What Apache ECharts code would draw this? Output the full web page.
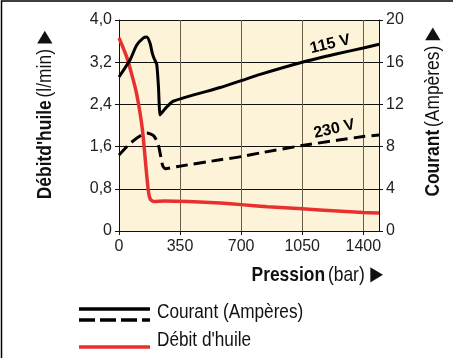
<!DOCTYPE html>
<html>
<head>
<meta charset="utf-8">
<script src="https://cdn.jsdelivr.net/npm/echarts@6/dist/echarts.min.js"></script>
<style>
  html, body { margin: 0; padding: 0; background: #fff; }
  #chart { width: 453px; height: 358px; }
</style>
</head>
<body>
<div id="chart"></div>
<script>
// valeurs
const pressionDebit = [0, 44, 82, 101, 120, 135, 148, 159, 170, 180, 200, 260, 400, 580, 700, 850, 1050, 1250, 1400, 1490];
const debitHuile = [3.66, 3.3, 2.86, 2.6, 2.25, 1.9, 1.45, 1.05, 0.72, 0.6, 0.56, 0.57, 0.56, 0.53, 0.5, 0.46, 0.42, 0.38, 0.35, 0.34];

const pression115 = [0, 63, 101, 140, 159, 178, 190, 200, 216, 226, 235, 245, 265, 310, 580, 700, 809, 1050, 1250, 1400, 1490];
const courant115 = [14.6, 16.2, 17.6, 18.3, 18.4, 17.8, 16.9, 16.4, 15.8, 13.7, 11.0, 11.2, 11.6, 12.3, 13.6, 14.25, 14.85, 16.0, 16.8, 17.35, 17.7];

const pression230 = [0, 63, 120, 159, 197, 215, 226, 240, 250, 265, 330, 580, 700, 809, 1050, 1250, 1400, 1490];
const courant230 = [7.2, 8.3, 9.0, 9.3, 9.05, 8.6, 8.15, 7.0, 6.2, 5.9, 6.1, 6.75, 7.05, 7.4, 8.1, 8.6, 8.95, 9.1];

const etiquettes = [
  { texte: '115 V', coord: [1211, 17.7] },
  { texte: '230 V', coord: [1234, 9.67] }
];

const SANS = "'Liberation Sans', Arial, sans-serif";
const ROUGE = '#e8312f';
const SERRE = 0.83; // police condensée simulée

function pairs(xs, ys) {
  return xs.map((x, i) => [x, ys[i]]);
}

const titreRich = {
  b: { fontFamily: SANS, fontWeight: 'bold', fontSize: 21, fill: '#111' },
  n: { fontFamily: SANS, fontSize: 21, fill: '#111' },
  t: { fontFamily: 'DejaVu Sans', fontSize: 20, fill: '#111' }
};

const chart = echarts.init(document.getElementById('chart'));

const option = {
  animation: false,
  grid: { left: 119, right: 74, top: 20, bottom: 127, show: true, backgroundColor: '#fdf3d9', borderWidth: 0 },
  xAxis: {
    type: 'value', min: 0, max: 1490, interval: 350,
    axisLine: { lineStyle: { color: '#111', width: 1 } },
    axisTick: { show: true, length: 4, lineStyle: { color: '#111' } },
    axisLabel: { showMaxLabel: false, color: '#222', fontSize: 16, fontFamily: SANS, margin: 8, formatter: v => String(v) },
    splitLine: { show: true, lineStyle: { color: '#6b5e4a', width: 1 } }
  },
  yAxis: [
    {
      type: 'value', min: 0, max: 4, interval: 0.8, position: 'left',
      axisLine: { show: true, lineStyle: { color: '#111' } },
      axisTick: { show: true, length: 4, lineStyle: { color: '#111' } },
      axisLabel: {
        color: '#222', fontSize: 16, fontFamily: SANS, margin: 7,
        formatter: v => v === 0 ? '0' : v.toFixed(1).replace('.', ',')
      },
      splitLine: { show: true, lineStyle: { color: '#111', width: 1 } }
    },
    {
      type: 'value', min: 0, max: 20, interval: 4, position: 'right',
      axisLine: { show: true, lineStyle: { color: '#111' } },
      axisTick: { show: true, length: 4, lineStyle: { color: '#111' } },
      axisLabel: { color: '#222', fontSize: 16, fontFamily: SANS, margin: 7 },
      splitLine: { show: false }
    }
  ],
  series: [
    {
      name: 'Débit d\'huile', type: 'line', yAxisIndex: 0, smooth: 0.2,
      showSymbol: false, data: pairs(pressionDebit, debitHuile),
      lineStyle: { color: ROUGE, width: 3.5 }
    },
    {
      name: 'Courant 230 V', type: 'line', yAxisIndex: 1, smooth: 0.2,
      showSymbol: false, data: pairs(pression230, courant230),
      lineStyle: { color: '#000', width: 3, type: [12, 6] },
      markPoint: {
        symbolSize: 0, silent: true,
        label: { show: true, formatter: etiquettes[1].texte, rotate: 13, color: '#000', fontSize: 16, fontWeight: 'bold', fontFamily: SANS },
        data: [{ coord: etiquettes[1].coord }]
      }
    },
    {
      name: 'Courant 115 V', type: 'line', yAxisIndex: 1, smooth: 0.2,
      showSymbol: false, data: pairs(pression115, courant115),
      lineStyle: { color: '#000', width: 3 },
      markPoint: {
        symbolSize: 0, silent: true,
        label: { show: true, formatter: etiquettes[0].texte, rotate: 13, color: '#000', fontSize: 16, fontWeight: 'bold', fontFamily: SANS },
        data: [{ coord: etiquettes[0].coord }]
      }
    }
  ],
  graphic: [
    // cadre
    { type: 'rect', shape: { x: 1.5, y: 1, width: 460, height: 370 }, style: { fill: null, stroke: '#000', lineWidth: 1.5 }, z: 100 },
    // titre axe gauche
    {
      type: 'text', x: 45, y: 115, rotation: Math.PI / 2, scaleX: SERRE,
      style: { text: '{b|Débitd\'huile} {n|(l/min)}  {t|▶}', align: 'center', verticalAlign: 'middle', rich: titreRich }
    },
    // titre axe droit
    {
      type: 'text', x: 433, y: 112, rotation: Math.PI / 2, scaleX: SERRE,
      style: { text: '{b|Courant} {n|(Ampères)}  {t|▶}', align: 'center', verticalAlign: 'middle', rich: titreRich }
    },
    // titre axe bas
    {
      type: 'text', x: 383, y: 275, scaleX: SERRE,
      style: { text: '{b|Pression} {n|(bar)}  {t|▶}', align: 'right', verticalAlign: 'middle', rich: titreRich }
    },
    // légende
    { type: 'line', shape: { x1: 79, y1: 309, x2: 150, y2: 309 }, style: { stroke: '#000', lineWidth: 3.5 } },
    { type: 'line', shape: { x1: 79, y1: 320, x2: 150, y2: 320 }, style: { stroke: '#000', lineWidth: 3.5, lineDash: [16, 5] } },
    { type: 'line', shape: { x1: 79, y1: 347, x2: 150, y2: 347 }, style: { stroke: ROUGE, lineWidth: 3.5 } },
    { type: 'text', x: 157, y: 312, scaleX: 0.86, style: { text: 'Courant (Ampères)', fontFamily: SANS, fontSize: 20, fill: '#111', verticalAlign: 'middle' } },
    { type: 'text', x: 157, y: 340, scaleX: 0.86, style: { text: 'Débit d\'huile', fontFamily: SANS, fontSize: 20, fill: '#111', verticalAlign: 'middle' } }
  ]
};

chart.setOption(option);
</script>
</body>
</html>
